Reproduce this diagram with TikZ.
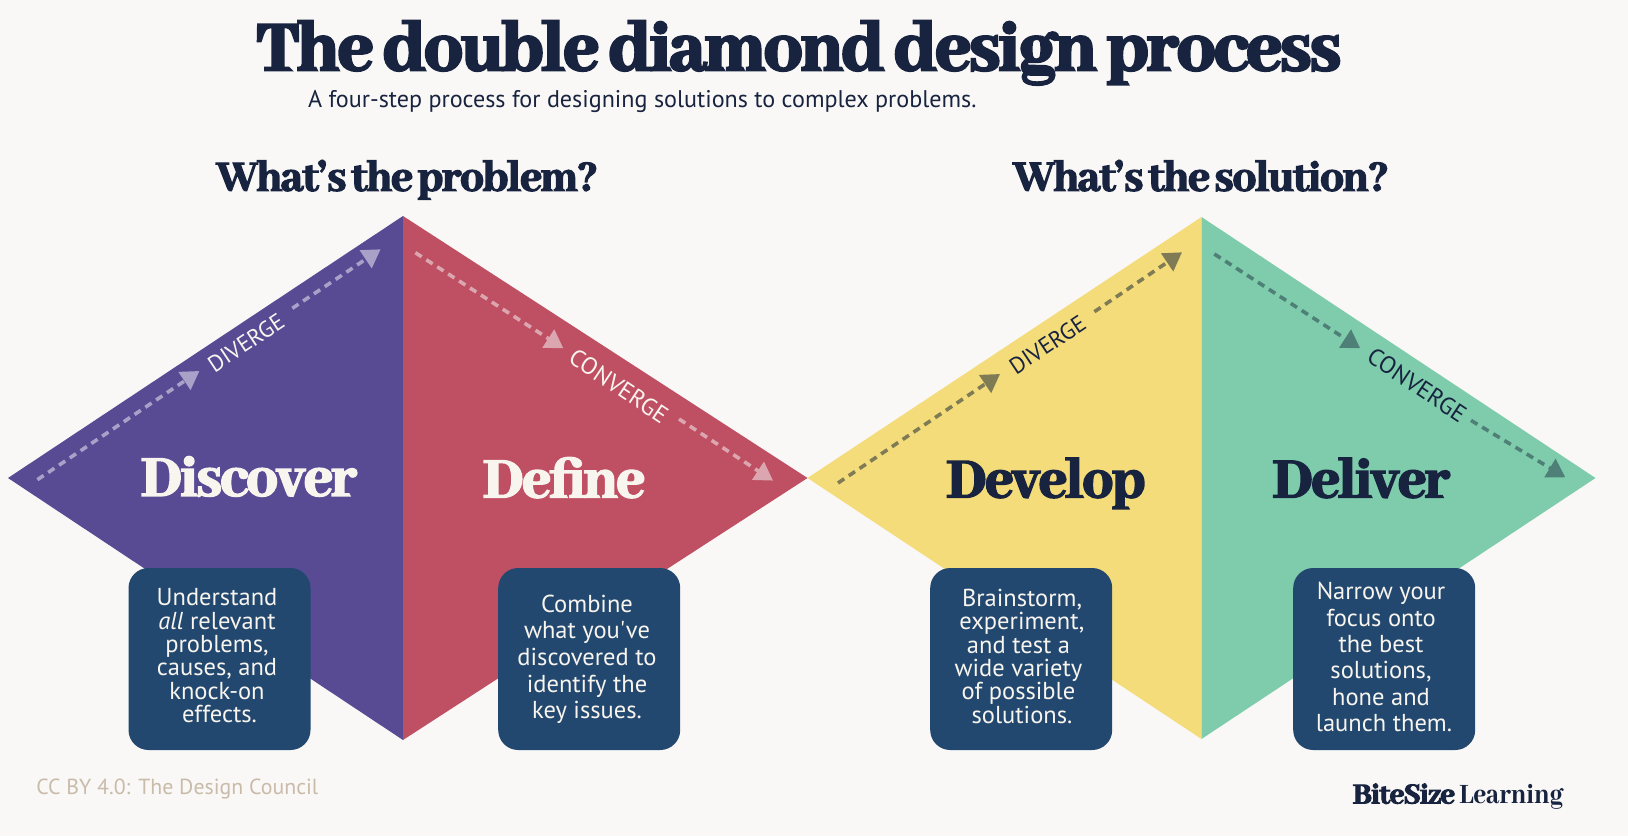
\documentclass[tikz,border=0pt]{standalone}
\usepackage{fontspec}
\usepackage{graphicx}
\defaultfontfeatures[\rmfamily]{}
\setmainfont{PT Sans}
\newfontfamily\dispfont[FakeBold=3,LetterSpace=-3,WordSpace=0.6]{Abhaya Libre ExtraBold}
\newfontfamily\titlefont[FakeBold=3.6,LetterSpace=-2.6,WordSpace=0.75]{Abhaya Libre ExtraBold}
\newfontfamily\logofont{Abhaya Libre}
\usetikzlibrary{arrows.meta}
\definecolor{bgc}{HTML}{FAF8F6}
\definecolor{navy}{HTML}{17233F}
\definecolor{cream}{HTML}{F8F4EE}
\definecolor{purplec}{HTML}{594A94}
\definecolor{redc}{HTML}{BF4F62}
\definecolor{yellowc}{HTML}{F4DC7A}
\definecolor{greenc}{HTML}{7FCCAC}
\definecolor{boxc}{HTML}{224870}
\definecolor{pdash}{HTML}{A9A1C8}
\definecolor{rdash}{HTML}{DBA6B0}
\definecolor{ydash}{HTML}{7F7B55}
\definecolor{gdash}{HTML}{4F8078}
\definecolor{creditc}{HTML}{C9BBA9}
\tikzset{
  txt/.style={inner sep=0pt,outer sep=0pt,anchor=base west},
  infobox/.style={draw=none,fill=boxc,rounded corners=20pt,minimum width=182pt,minimum height=182pt,inner sep=0pt,anchor=north west},
  infotxt/.style={inner sep=0pt,align=center,text=cream,anchor=base,font=\fontsize{24.5}{23.3}\selectfont},
  flow/.style={line width=3.6pt,dash pattern=on 7.5pt off 5.5pt,-{Triangle[length=18pt,width=21pt]}},
  arrowlab/.style={inner sep=0pt,font=\fontsize{24}{24}\selectfont}
}
\newcommand{\fit}[2]{\resizebox{#1pt}{!}{#2}}
\begin{document}
\begin{tikzpicture}[x=1pt,y=-1pt]
\useasboundingbox (0,0) rectangle (1628,836);
\fill[bgc] (0,0) rectangle (1628,836);
% diamond points
\coordinate (aL) at (8,478);
\coordinate (aT) at (403,216);
\coordinate (aB) at (403,740);
\coordinate (aR) at (807.5,478);
\coordinate (bT) at (1201.5,217);
\coordinate (bB) at (1201.5,739);
\coordinate (bR) at (1595.5,478);
\fill[purplec] (aL)--(aT)--(aB)--cycle;
\fill[redc] (aT)--(aR)--(aB)--cycle;
\fill[yellowc] (aR)--(bT)--(bB)--cycle;
\fill[greenc] (bT)--(bR)--(bB)--cycle;
% texts
\node[txt,text=navy] (title) at (257,70) {\fit{1084}{\titlefont\fontsize{66}{66}\selectfont The double diamond design process}};
\node[txt,text=navy] (sub) at (308,107.5) {\fit{668.5}{\fontsize{23}{23}\selectfont A four-step process for designing solutions to complex problems.}};
\node[txt,text=navy] (h1) at (216.5,190.7) {\fit{381.5}{\dispfont\fontsize{40}{40}\selectfont What’s the problem?}};
\node[txt,text=navy] (h2) at (1013.4,190.7) {\fit{375.4}{\dispfont\fontsize{40}{40}\selectfont What’s the solution?}};
\node[txt,text=cream] (n1) at (141,495.7) {\fit{216}{\dispfont\fontsize{50}{50}\selectfont Discover}};
\node[txt,text=cream] (n2) at (483,497.3) {\fit{162}{\dispfont\fontsize{50}{50}\selectfont Define}};
\node[txt,text=navy] (n3) at (946.4,497.3) {\fit{199}{\dispfont\fontsize{50}{50}\selectfont Develop}};
\node[txt,text=navy] (n4) at (1272.5,497.3) {\fit{177.5}{\dispfont\fontsize{50}{50}\selectfont Deliver}};
% boxes
\node[infobox] (b1) at (128.3,567.8) {};
\node[infobox] (b2) at (498,567.8) {};
\node[infobox] (b3) at (930,567.8) {};
\node[infobox] (b4) at (1293,567.8) {};
\node[infotxt] (t1) at (217,722.3) {Understand\\\textit{all} relevant\\problems,\\causes, and\\knock-on\\\hspace*{5pt}effects.};
\node[infotxt,font=\fontsize{24.5}{26.6}\selectfont] (t2) at (587,718.7) {Combine\\what you've\\discovered to\\identify the\\key issues.};
\node[infotxt] (t3) at (1018.5,723) {\hspace*{7pt}Brainstorm,\\\hspace*{7pt}experiment,\\and test a\\wide variety\\of possible\\\hspace*{7pt}solutions.};
\node[infotxt,font=\fontsize{24.5}{26.4}\selectfont] (t4) at (1381,731.7) {Narrow your\\focus onto\\the best\\solutions,\\hone and\\\hspace*{6pt}launch them.};
% flows
\coordinate (d1a) at (37.4,479.7);  \coordinate (d1b) at (199.4,371);
\coordinate (d2a) at (292.3,308.3); \coordinate (d2b) at (380.6,249.3);
\coordinate (c1a) at (415.4,252.7); \coordinate (c1b) at (563.4,348.3);
\coordinate (c2a) at (679,419);     \coordinate (c2b) at (773,480.6);
\coordinate (e1a) at (838,483);     \coordinate (e1b) at (1000,374);
\coordinate (e2a) at (1094.4,311.7);\coordinate (e2b) at (1182,252.3);
\coordinate (f1a) at (1214.3,254);  \coordinate (f1b) at (1360.2,348.3);
\coordinate (f2a) at (1471,420.4);  \coordinate (f2b) at (1565.3,477.3);
\draw[flow,pdash] (d1a)--(d1b);
\draw[flow,pdash] (d2a)--(d2b);
\draw[flow,rdash] (c1a)--(c1b);
\draw[flow,rdash] (c2a)--(c2b);
\draw[flow,ydash] (e1a)--(e1b);
\draw[flow,ydash] (e2a)--(e2b);
\draw[flow,gdash] (f1a)--(f1b);
\draw[flow,gdash] (f2a)--(f2b);
\node[arrowlab,font=\fontsize{23}{23}\selectfont,text=cream,rotate=33.7] (l1) at (246,342.6) {DIVERGE};
\node[arrowlab,text=cream,rotate=-33.7] (l2) at (618.7,386) {CONVERGE};
\node[arrowlab,font=\fontsize{23}{23}\selectfont,text=navy,rotate=33.7] (l3) at (1047.5,344.6) {DIVERGE};
\node[arrowlab,text=navy,rotate=-33.7] (l4) at (1417,385) {CONVERGE};
% footers
\node[txt,text=creditc] (cc) at (36.3,794.7) {\fit{282}{\fontsize{21}{21}\selectfont CC BY 4.0: The Design Council}};
\node[txt,text=navy] (logo) at (1352.7,803.5) {\fit{102.3}{\fontsize{30}{30}\selectfont\dispfont BiteSize}\hspace{4.3pt}\resizebox*{104pt}{25pt}{\fontsize{30}{30}\selectfont\logofont Learning}};
\end{tikzpicture}
\end{document}
